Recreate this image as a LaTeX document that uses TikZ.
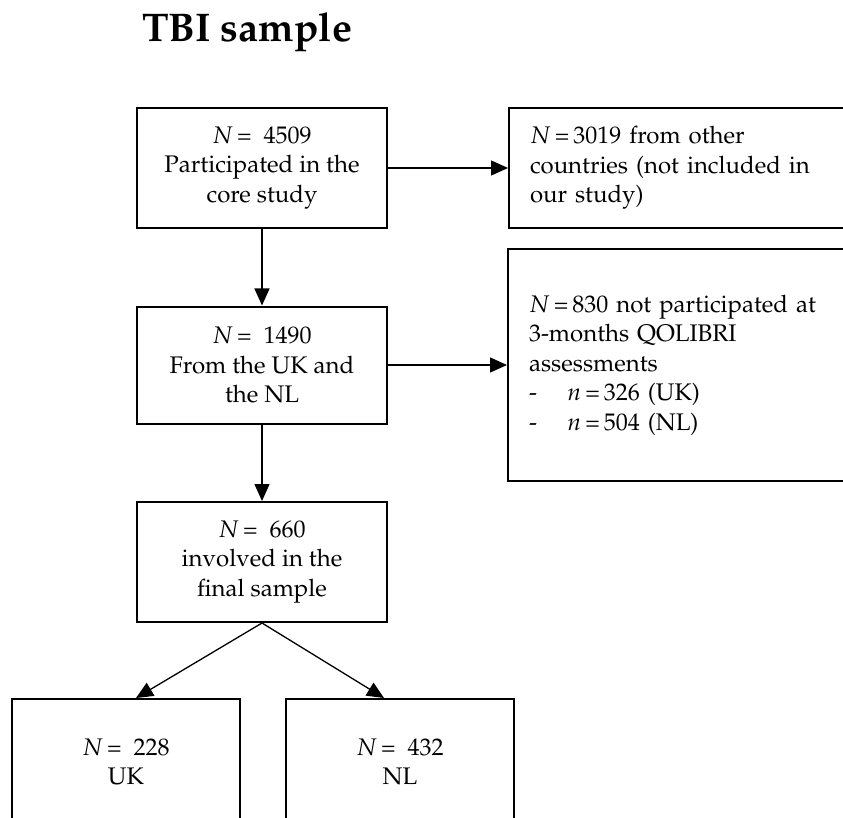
\documentclass[tikz,border=0pt]{standalone}
\usepackage[T1]{fontenc}
\usepackage{mathpazo}
\usetikzlibrary{arrows.meta}
\begin{document}
\begin{tikzpicture}[x=1pt,y=-1pt,
  txt/.style={font=\fontsize{24}{29.5}\selectfont},
  box/.style={txt,draw,line width=2pt,rectangle,minimum width=250pt,
    minimum height=120pt,align=center,inner sep=0pt},
  sidebox/.style={txt,draw,line width=2pt,rectangle,anchor=west,
    text width=330pt,inner xsep=21pt,inner ysep=0pt,align=left},
  arr/.style={line width=1.3pt,-{Triangle[length=17pt,width=15pt]}}
]
\useasboundingbox (0,0) rectangle (843,818);
\clip (0,0) rectangle (843,818);
\fill[white] (0,0) rectangle (843,818);

\node[font=\fontsize{40}{48}\bfseries\selectfont] (title) at (247,32) {TBI sample};

\node[box] (core) at (262,168) {$N$\,=\ \ 4509\\Participated in the\\core study};
\node[sidebox,minimum height=120pt] (other) at (508,168)
  {$N$\,=\,3019 from other\\countries (not included in\\our study)};

\node[box,minimum height=117pt] (uknl) at (262,365) {$N$\,=\ \ 1490\\From the UK and\\the NL};
\node[sidebox,minimum height=232pt] (notp) at (507,365)
  {$N$\,=\,830 not participated at\\3-months QOLIBRI\\assessments\\
   \makebox[1.6em][l]{-}$n$\,=\,326 (UK)\\
   \makebox[1.6em][l]{-}$n$\,=\,504 (NL)};

\node[box] (final) at (262,562) {$N$\,=\ \ 660\\involved in the\\final sample};

\node[box,minimum width=228pt,minimum height=126pt] (uk) at (126,762)
  {$N$\,=\ \ 228\\UK};
\node[box,minimum width=228pt,minimum height=126pt] (nl) at (400,762)
  {$N$\,=\ \ 432\\NL};

\draw[arr] (core.east) -- (other.west);
\draw[arr] (uknl.east) -- (notp.west |- uknl.east);
\draw[arr] (core.south) -- (uknl.north);
\draw[arr] (uknl.south) -- (final.north);
\draw[arr] (final.south) -- ([xshift=10pt]uk.north);
\draw[arr] (final.south) -- ([xshift=-16pt]nl.north);
\end{tikzpicture}
\end{document}
